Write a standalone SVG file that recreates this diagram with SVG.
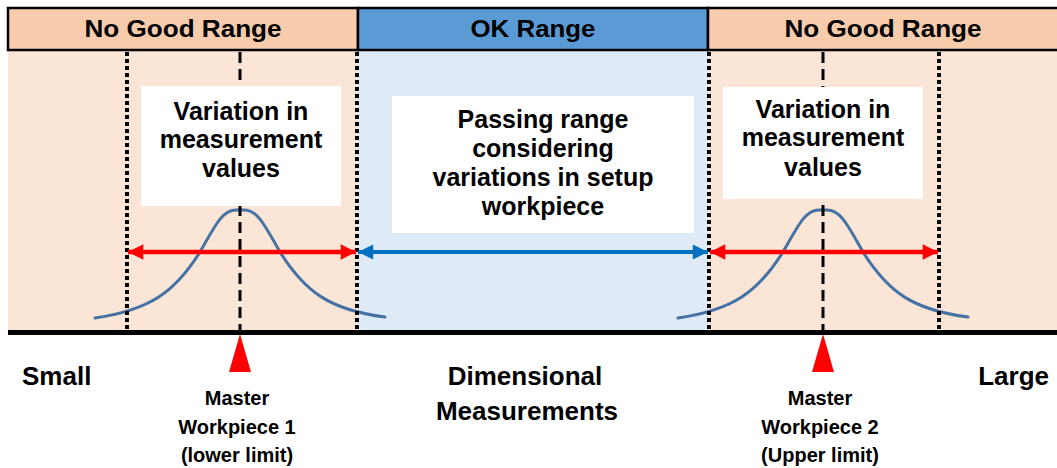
<svg xmlns="http://www.w3.org/2000/svg" width="1057" height="468" viewBox="0 0 1057 468">
  <defs>
    <style>
      .hdr { font-family: "Liberation Sans", Arial, sans-serif; font-weight: bold; font-size: 23px; fill: #000; text-anchor: middle; }
      .box { font-family: "Liberation Sans", Arial, sans-serif; font-weight: bold; font-size: 25px; fill: #000; text-anchor: middle; }
      .axis { font-family: "Liberation Sans", Arial, sans-serif; font-weight: bold; font-size: 26px; fill: #000; }
      .mw { font-family: "Liberation Sans", Arial, sans-serif; font-weight: bold; font-size: 20px; fill: #000; text-anchor: middle; }
      .dot { stroke: #000; stroke-width: 4; stroke-dasharray: 4 3; fill: none; }
      .dash { stroke: #000; stroke-width: 3; stroke-dasharray: 11 6; fill: none; }
      .bell { stroke: #4472A4; stroke-width: 3; fill: none; stroke-linecap: round; }
      .red { stroke: #FF0000; stroke-width: 4.5; fill: none; }
      .blue { stroke: #0070C0; stroke-width: 4; fill: none; }
    </style>
    <marker id="redHead" viewBox="0 0 10 10" refX="10" refY="5" markerWidth="3.6" markerHeight="3.4" orient="auto-start-reverse" markerUnits="strokeWidth">
      <path d="M0,0 L10,5 L0,10 Z" fill="#FF0000"/>
    </marker>
    <marker id="blueHead" viewBox="0 0 10 10" refX="10" refY="5" markerWidth="4" markerHeight="3.8" orient="auto-start-reverse" markerUnits="strokeWidth">
      <path d="M0,0 L10,5 L0,10 Z" fill="#0070C0"/>
    </marker>
  </defs>

  <!-- range bodies -->
  <g id="bands">
    <rect x="8" y="50" width="350" height="281" fill="#FBE5D6"/>
    <rect x="358" y="50" width="350" height="281" fill="#DEEBF7"/>
    <rect x="708" y="50" width="349" height="281" fill="#FBE5D6"/>
  </g>

  <!-- range headers -->
  <g id="header-ng-left">
    <rect x="8" y="8" width="350" height="42" fill="#F8CBAD" stroke="#000" stroke-width="2.5"/>
    <text class="hdr" x="183" y="37" textLength="197" lengthAdjust="spacingAndGlyphs">No Good Range</text>
  </g>
  <g id="header-ok">
    <rect x="358" y="8" width="350" height="42" fill="#5B9BD5" stroke="#000" stroke-width="2.5"/>
    <text class="hdr" x="533" y="37" textLength="125" lengthAdjust="spacingAndGlyphs">OK Range</text>
  </g>
  <g id="header-ng-right">
    <rect x="708" y="8" width="352" height="42" fill="#F8CBAD" stroke="#000" stroke-width="2.5"/>
    <text class="hdr" x="883" y="37" textLength="197" lengthAdjust="spacingAndGlyphs">No Good Range</text>
  </g>

  <!-- distribution curves -->
  <g id="dist-1">
    <path class="bell" d="M95,318 C150,310 175,292 200,252 C215,226 222,210 236,210 L244,210 C258,210 265,226 280,252 C305,292 330,310 385,317"/>
  </g>
  <g id="dist-2">
    <path class="bell" d="M678,318 C733,310 758,292 783,252 C798,226 805,210 819,210 L827,210 C841,210 848,226 863,252 C888,292 913,310 968,317"/>
  </g>

  <!-- limit lines -->
  <g id="limits">
    <line class="dot" x1="127" y1="52" x2="127" y2="330"/>
    <line class="dot" x1="357" y1="52" x2="357" y2="330"/>
    <line class="dot" x1="709" y1="52" x2="709" y2="330"/>
    <line class="dot" x1="939" y1="52" x2="939" y2="330"/>
    <line class="dash" x1="240" y1="52" x2="240" y2="330"/>
    <line class="dash" x1="823" y1="52" x2="823" y2="330"/>
  </g>

  <!-- text boxes -->
  <g id="box-variation-1">
    <rect x="141" y="86" width="200" height="120" fill="#FFFFFF"/>
    <text class="box" x="241" y="120">Variation in</text>
    <text class="box" x="241" y="148">measurement</text>
    <text class="box" x="241" y="177">values</text>
  </g>
  <g id="box-passing">
    <rect x="392" y="96" width="302" height="137" fill="#FFFFFF"/>
    <text class="box" x="543" y="128">Passing range</text>
    <text class="box" x="543" y="157">considering</text>
    <text class="box" x="543" y="186">variations in setup</text>
    <text class="box" x="543" y="215">workpiece</text>
  </g>
  <g id="box-variation-2">
    <rect x="723" y="87" width="200" height="112" fill="#FFFFFF"/>
    <text class="box" x="823" y="118">Variation in</text>
    <text class="box" x="823" y="146">measurement</text>
    <text class="box" x="823" y="176">values</text>
  </g>

  <!-- range arrows -->
  <g id="connectors">
    <line class="red" x1="128" y1="252" x2="356" y2="252" marker-start="url(#redHead)" marker-end="url(#redHead)"/>
    <line class="blue" x1="358" y1="252" x2="708" y2="252" marker-start="url(#blueHead)" marker-end="url(#blueHead)"/>
    <line class="red" x1="710" y1="252" x2="938" y2="252" marker-start="url(#redHead)" marker-end="url(#redHead)"/>
  </g>

  <!-- measurement axis -->
  <g id="axis">
    <rect x="8" y="330" width="1049" height="5" fill="#000"/>
    <text class="axis" x="22" y="385">Small</text>
    <text class="axis" x="1049" y="385" text-anchor="end">Large</text>
    <text class="axis" x="525" y="385" text-anchor="middle">Dimensional</text>
    <text class="axis" x="527" y="420" text-anchor="middle">Measurements</text>
  </g>

  <!-- master workpieces -->
  <g id="master-1">
    <polygon points="240,334 229,372 251,372" fill="#FF0000"/>
    <text class="mw" x="237" y="405">Master</text>
    <text class="mw" x="237" y="434">Workpiece 1</text>
    <text class="mw" x="237" y="462">(lower limit)</text>
  </g>
  <g id="master-2">
    <polygon points="823,334 812,372 834,372" fill="#FF0000"/>
    <text class="mw" x="820" y="405">Master</text>
    <text class="mw" x="820" y="434">Workpiece 2</text>
    <text class="mw" x="820" y="462">(Upper limit)</text>
  </g>
</svg>
